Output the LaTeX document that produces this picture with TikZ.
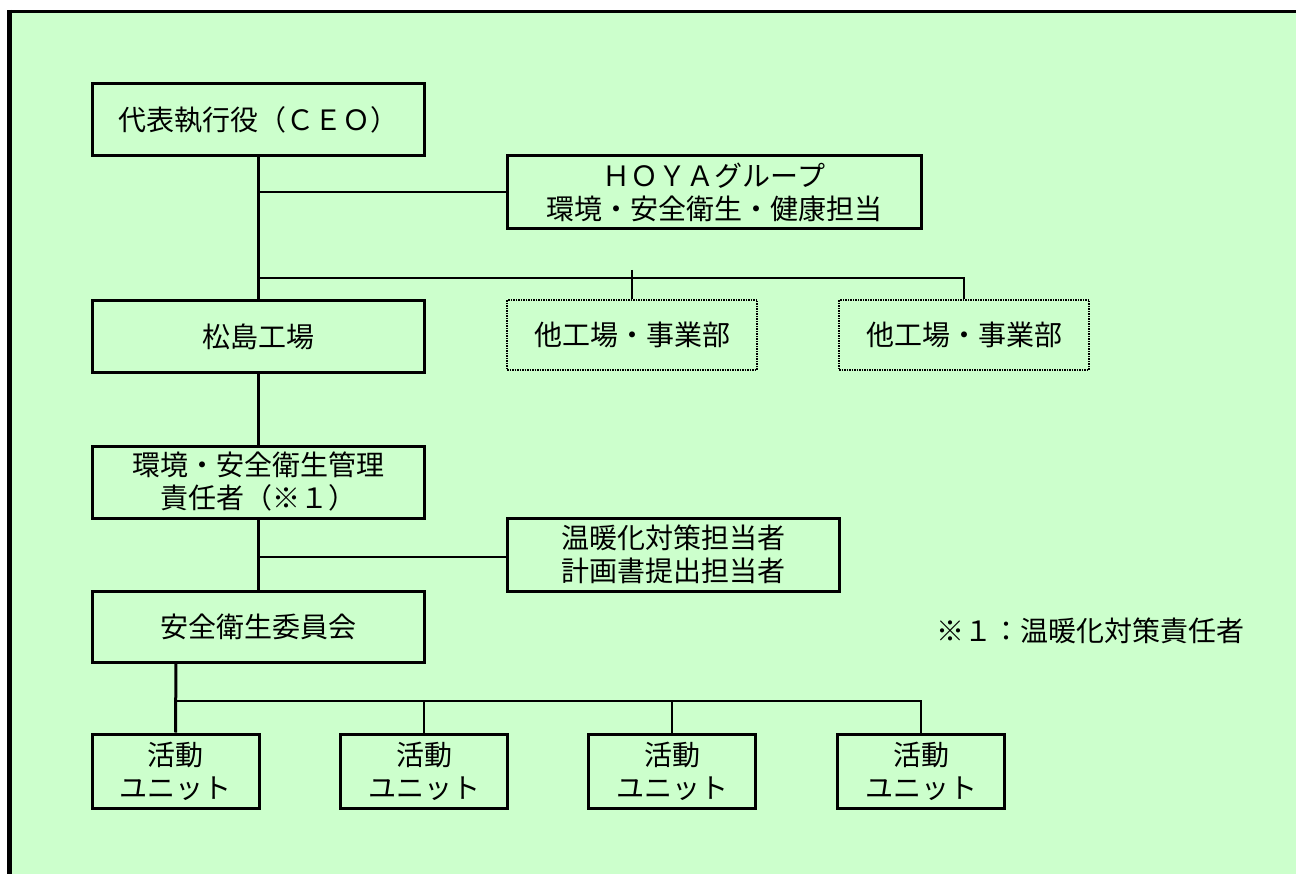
\documentclass[tikz,border=0pt]{standalone}
\usepackage{fontspec}
\setmainfont{Noto Sans CJK JP}
\definecolor{bggreen}{HTML}{CCFFCC}
\begin{document}
\begin{tikzpicture}[x=1pt,y=-1pt,
  box/.style={draw=black,line width=3pt,fill=bggreen,inner sep=0pt,align=center,
    font=\fontsize{28}{33}\selectfont},
  dotbox/.style={draw=black,line width=2.5pt,dash pattern=on 1.5pt off 1pt,fill=bggreen,
    inner sep=0pt,align=center,font=\fontsize{28}{33}\selectfont},
  thick line/.style={line width=3pt},
  thin line/.style={line width=2pt}]
\useasboundingbox (0,0) rectangle (1296,874);
\fill[white] (0,0) rectangle (1296,874);
\fill[bggreen] (12,13) rectangle (1296,874);
\draw[line width=3pt] (7,11.5) -- (1296,11.5);
\draw[line width=5pt] (9.5,10) -- (9.5,874);

% nodes
\node[box,minimum width=332pt,minimum height=72pt] (ceo) at (258,120) {代表執行役（ＣＥＯ）};
\node[box,minimum width=414pt,minimum height=73pt] (hoya) at (714,192.5) {ＨＯＹＡグループ\\環境・安全衛生・健康担当};
\node[box,minimum width=332pt,minimum height=72pt] (matsu) at (258,337) {松島工場};
\node[dotbox,minimum width=250pt,minimum height=70pt] (other1) at (632,335) {他工場・事業部};
\node[dotbox,minimum width=250pt,minimum height=70pt] (other2) at (964,335) {他工場・事業部};
\node[box,minimum width=332pt,minimum height=72pt] (kanri) at (258,482) {環境・安全衛生管理\\責任者（※１）};
\node[box,minimum width=332pt,minimum height=73pt] (ondan) at (673,554.5) {温暖化対策担当者\\計画書提出担当者};
\node[box,minimum width=332pt,minimum height=71pt] (iinkai) at (258,626.5) {安全衛生委員会};
\node[box,minimum width=167pt,minimum height=74pt] (u1) at (175.5,771) {活動\\ユニット};
\node[box,minimum width=167pt,minimum height=74pt] (u2) at (424,771) {活動\\ユニット};
\node[box,minimum width=167pt,minimum height=74pt] (u3) at (672,771) {活動\\ユニット};
\node[box,minimum width=167pt,minimum height=74pt] (u4) at (921,771) {活動\\ユニット};
\node[font=\fontsize{28}{33}\selectfont,inner sep=0pt] (note) at (1090,631) {※１：温暖化対策責任者};

% connectors
\coordinate (j1) at (258,192);
\coordinate (j2) at (258,278);
\coordinate (j2t) at (632,270);
\coordinate (j3) at (258,557);
\coordinate (j4) at (176,701);
\coordinate (s1) at (176,662);

\draw[thick line] (ceo.south) -- (matsu.north);
\draw[thin line] (j1) -- (hoya.west |- j1);
\draw[thin line] (j2) -| (other2.north);
\draw[thin line] (j2t) -- (other1.north);
\draw[thick line] (matsu.south) -- (kanri.north);
\draw[thick line] (kanri.south) -- (iinkai.north);
\draw[thin line] (j3) -- (ondan.west |- j3);
\draw[thick line] (s1) -- (u1.north);
\draw[thin line] (j4) -| (u4.north);
\draw[thin line] (j4 -| u2.north) -- (u2.north);
\draw[thin line] (j4 -| u3.north) -- (u3.north);
\end{tikzpicture}
\end{document}
